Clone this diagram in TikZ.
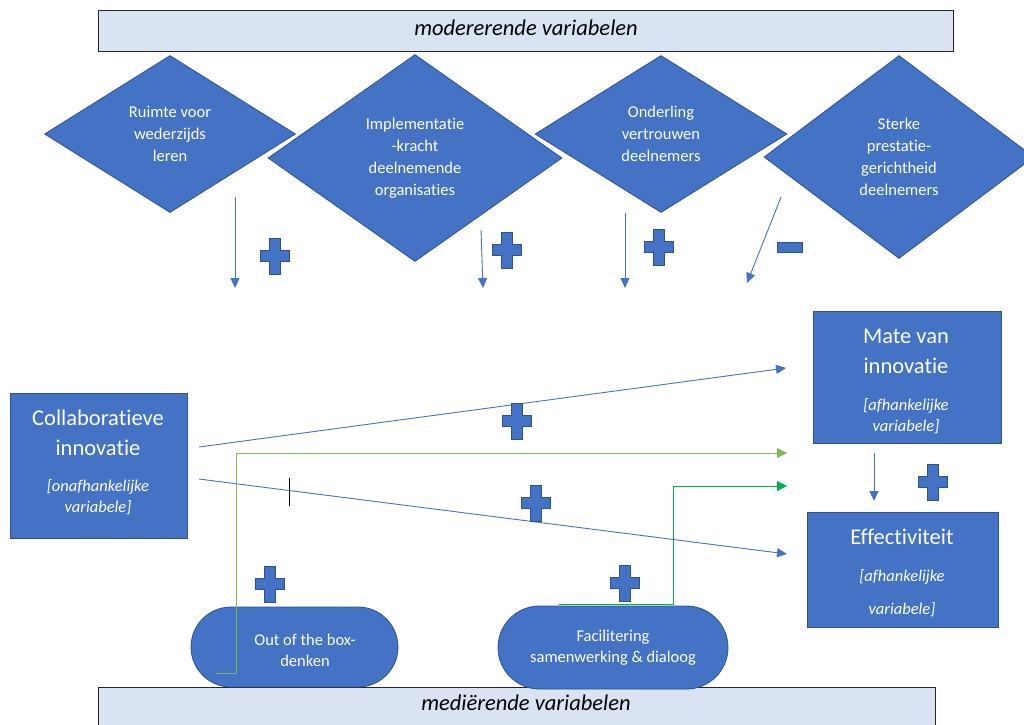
\documentclass[tikz,border=0pt]{standalone}
\usepackage{fontspec}
\setmainfont{Carlito}[Ligatures=NoCommon]
\usetikzlibrary{shapes.geometric,shapes.misc,arrows.meta}
\definecolor{blu}{HTML}{4472C4}
\definecolor{blud}{HTML}{2F528F}
\definecolor{barf}{HTML}{DAE3F3}
\definecolor{grn}{HTML}{7DB85A}
\definecolor{grnb}{HTML}{00B050}
\definecolor{barline}{HTML}{262626}
\tikzset{
  barst/.style={draw=barline, line width=1pt, fill=barf, inner sep=0pt},
  bartext/.style={inner sep=0pt, font=\fontsize{22.5}{27}\selectfont\itshape, text=black},
  diam/.style={shape=diamond, fill=blu, draw=blud, line width=0.8pt, inner sep=0pt, text=white, align=center, font=\fontsize{16.5}{22}\selectfont},
  stad/.style={rounded rectangle, fill=blu, draw=blud, line width=0.8pt, inner sep=0pt, text=white, align=center, font=\fontsize{16.5}{21}\selectfont},
  stadtext/.style={inner sep=0pt, text=white, align=center, font=\fontsize{16.5}{21}\selectfont},
  boxst/.style={fill=blu, draw=blud, line width=1pt, inner sep=0pt},
  titletext/.style={inner sep=0pt, text=white, align=center, font=\fontsize{22.5}{30}\selectfont},
  italtext/.style={inner sep=0pt, text=white, align=center, font=\fontsize{16.5}{21}\selectfont\itshape},
  bluarrow/.style={draw=blu, line width=0.9pt, -{Triangle[length=10pt,width=9pt]}},
  grnarrow/.style={line width=1pt, -{Triangle[length=10pt,width=10pt]}},
  minusst/.style={fill=blu, draw=blud, line width=1pt, inner sep=0pt, minimum width=25pt, minimum height=10pt},
  plusmark/.pic={\path[fill=blu,draw=blud,line width=1pt] (-5.5,-18) -- (5.5,-18) -- (5.5,-5.5) -- (14.5,-5.5) -- (14.5,5.5) -- (5.5,5.5) -- (5.5,18) -- (-5.5,18) -- (-5.5,5.5) -- (-14.5,5.5) -- (-14.5,-5.5) -- (-5.5,-5.5) -- cycle;}
}
\begin{document}
\begin{tikzpicture}[x=1pt,y=-1pt]
\useasboundingbox (0,0) rectangle (1024,724);
\clip (0,0) rectangle (1024,724);
\fill[white] (0,0) rectangle (1024,724);

% bars
\node[barst, minimum width=855pt, minimum height=41pt] (topbar) at (525.5,30.5) {};
\node[bartext] (toptext) at (526,28) {modererende variabelen};
\node[barst, minimum width=837pt, minimum height=70pt] (botbar) at (516.5,722) {};
\node[bartext] (bottext) at (526,703) {mediërende variabelen};

% diamonds
\node[diam, minimum width=251pt, minimum height=157pt, aspect=1.6] (d1) at (170,134) {Ruimte voor\\wederzijds\\leren};
\node[diam, minimum width=294pt, minimum height=207pt, aspect=1.42] (d2) at (415,158) {Implementatie\\-kracht\\deelnemende\\organisaties};
\node[diam, minimum width=252pt, minimum height=157pt, aspect=1.6] (d3) at (661,134) {Onderling\\vertrouwen\\deelnemers};
\node[diam, minimum width=270pt, minimum height=203pt, aspect=1.33] (d4) at (899,157) {Sterke\\prestatie-\\gerichtheid\\deelnemers};

% moderator arrows
\coordinate (a1s) at (235,197); \coordinate (a1e) at (235,288);
\coordinate (a2s) at (481,230); \coordinate (a2e) at (483,288);
\coordinate (a3s) at (625,213); \coordinate (a3e) at (625,288);
\coordinate (a4s) at (781,197); \coordinate (a4e) at (747,283);
\draw[bluarrow] (a1s) -- (a1e);
\draw[bluarrow] (a2s) -- (a2e);
\draw[bluarrow] (a3s) -- (a3e);
\draw[bluarrow] (a4s) -- (a4e);
\pic at (275,256) {plusmark};
\pic at (507,250) {plusmark};
\pic at (659,247) {plusmark};
\node[minusst] (minus) at (790,247) {};

% main boxes
\node[boxst, minimum width=177pt, minimum height=145pt] (collab) at (98.5,465.5) {};
\node[titletext] (collabt) at (98,433) {Collaboratieve\\innovatie};
\node[italtext] (collabi) at (98,497.5) {[onafhankelijke\\variabele]};

\node[boxst, minimum width=188pt, minimum height=132pt] (mate) at (907,377) {};
\node[titletext] (matet) at (906,351) {Mate van\\innovatie};
\node[italtext] (matei) at (906,416) {[afhankelijke\\variabele]};

\node[boxst, minimum width=191pt, minimum height=115pt] (eff) at (902.5,569.5) {};
\node[titletext] (efft) at (902,537) {Effectiviteit};
\node[italtext, font=\fontsize{16.5}{33}\selectfont\itshape] (effi) at (902,593) {[afhankelijke\\variabele]};

% mediators
\node[stad, minimum width=207pt, minimum height=80pt] (oob) at (294.5,647) {};
\node[stadtext] (oobt) at (305,650.5) {Out of the box-\\denken};
\node[stad, minimum width=230pt, minimum height=83pt] (fac) at (613,647.5) {Facilitering\\samenwerking \& dialoog};

% main connectors
\coordinate (c1s) at (199,447); \coordinate (c1e) at (786,368);
\coordinate (c2s) at (199,479); \coordinate (c2e) at (787,554);
\draw[bluarrow] (c1s) -- (c1e);
\draw[bluarrow] (c2s) -- (c2e);
\coordinate (m1s) at (874,453); \coordinate (m1e) at (874,501);
\draw[bluarrow] (m1s) -- (m1e);

% green connectors
\coordinate (g1s) at (216,673); \coordinate (g1e) at (787,453);
\draw[grnarrow, draw=grn] (g1s) -- (236,673) -- (236,453) -- (g1e);
\coordinate (g2s) at (559,604); \coordinate (g2e) at (787,486);
\draw[grnarrow, draw=grnb] (g2s) -- (673,604) -- (673,486) -- (g2e);

% pluses
\pic at (517,421) {plusmark};
\pic at (536,503) {plusmark};
\pic at (933,482) {plusmark};
\pic at (270,584) {plusmark};
\pic at (625,583) {plusmark};

% cursor mark
\coordinate (cur1) at (289,478); \coordinate (cur2) at (289,506);
\draw[black, line width=0.9pt] (cur1) -- (cur2);
\end{tikzpicture}
\end{document}
